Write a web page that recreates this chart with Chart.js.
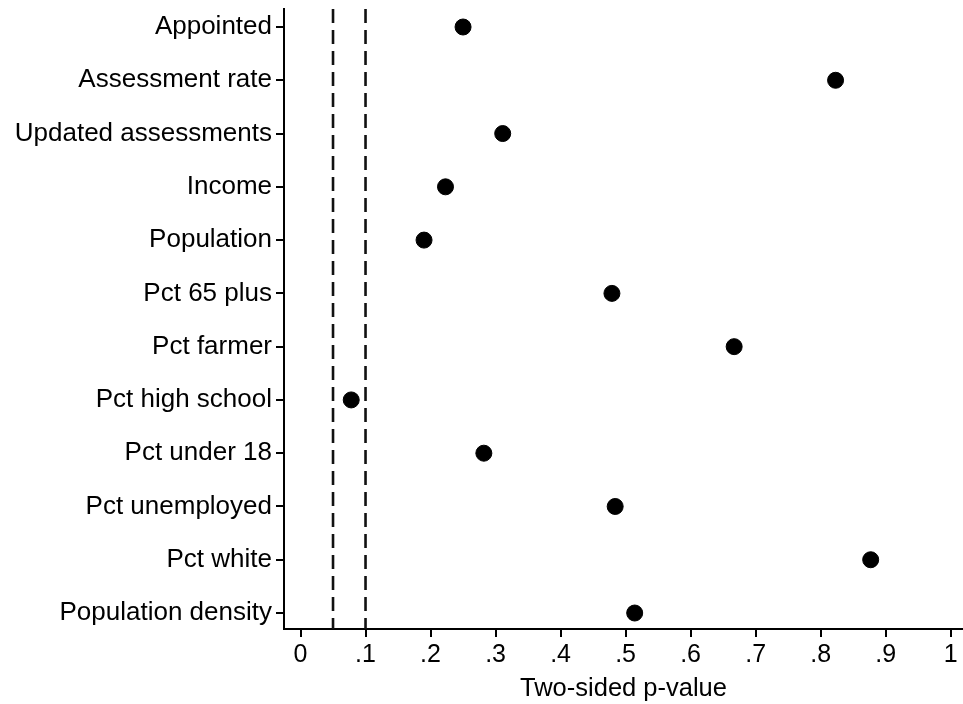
<!DOCTYPE html>
<html>
<head>
<meta charset="utf-8">
<script src="https://cdn.jsdelivr.net/npm/chart.js@4.4.1/dist/chart.umd.min.js"></script>
<style>
  html, body { margin: 0; padding: 0; background: #fff; }
  #wrap { width: 963px; height: 704px; position: relative; }
</style>
</head>
<body>
<div id="wrap"><canvas id="c" width="963" height="704"></canvas></div>
<script>
const categories = [
  "Appointed", "Assessment rate", "Updated assessments", "Income", "Population",
  "Pct 65 plus", "Pct farmer", "Pct high school", "Pct under 18", "Pct unemployed",
  "Pct white", "Population density"
];
const pValues = [0.25, 0.823, 0.311, 0.223, 0.19, 0.479, 0.667, 0.078, 0.282, 0.484, 0.877, 0.514];
const refLines = [0.05, 0.10];
const xTickValues = [0, 0.1, 0.2, 0.3, 0.4, 0.5, 0.6, 0.7, 0.8, 0.9, 1];
const xTickLabels = ["0", ".1", ".2", ".3", ".4", ".5", ".6", ".7", ".8", ".9", "1"];
const xTitle = "Two-sided p-value";

const Y_MIN = 0.662, Y_MAX = 12.30;
const FONT = "'Liberation Sans', Arial, Helvetica, sans-serif";

const points = pValues.map((v, i) => ({ x: v, y: i + 1 }));
const lineSets = refLines.map(v => ({
  type: 'line',
  data: [{ x: v, y: Y_MIN }, { x: v, y: Y_MAX }],
  borderColor: '#111',
  borderWidth: 2.6,
  borderDash: [14, 7],
  pointRadius: 0,
  fill: false
}));

new Chart(document.getElementById('c'), {
  type: 'scatter',
  data: {
    datasets: [
      ...lineSets,
      {
        type: 'scatter',
        data: points,
        backgroundColor: '#000',
        borderColor: '#000',
        pointRadius: 8,
        pointHoverRadius: 8
      }
    ]
  },
  options: {
    responsive: false,
    animation: false,
    events: [],
    layout: { autoPadding: false, padding: { left: 0, right: 0, top: 9, bottom: 0 } },
    plugins: { legend: { display: false }, tooltip: { enabled: false } },
    scales: {
      x: {
        type: 'linear',
        min: -0.0254,
        max: 1.019,
        afterBuildTicks: s => { s.ticks = xTickValues.map(v => ({ value: v })); },
        afterFit: s => { s.height = 75; s.paddingLeft = 0; s.paddingRight = 0; },
        border: { display: true, color: '#000', width: 2 },
        grid: { display: true, drawOnChartArea: false, drawTicks: true, tickLength: 8, color: '#000', lineWidth: 2 },
        ticks: {
          color: '#000',
          font: { family: FONT, size: 25 },
          padding: 3,
          maxRotation: 0,
          callback: (v) => { const i = xTickValues.findIndex(t => Math.abs(t - v) < 1e-9); return i >= 0 ? xTickLabels[i] : ''; }
        },
        title: {
          display: true,
          text: xTitle,
          color: '#000',
          font: { family: FONT, size: 25.5 },
          padding: { top: 0, bottom: 0 }
        }
      },
      y: {
        type: 'linear',
        reverse: true,
        min: Y_MIN,
        max: Y_MAX,
        afterBuildTicks: s => { s.ticks = categories.map((c, i) => ({ value: i + 1 })); },
        afterFit: s => { s.width = 284; s.paddingTop = 0; s.paddingBottom = 0; },
        border: { display: true, color: '#000', width: 2 },
        grid: { display: true, drawOnChartArea: false, drawTicks: true, tickLength: 8, color: '#000', lineWidth: 2 },
        ticks: {
          color: '#000',
          font: { family: FONT, size: 26 },
          padding: 4,
          callback: (v) => categories[Math.round(v) - 1] || ''
        }
      }
    }
  }
});
</script>
</body>
</html>
